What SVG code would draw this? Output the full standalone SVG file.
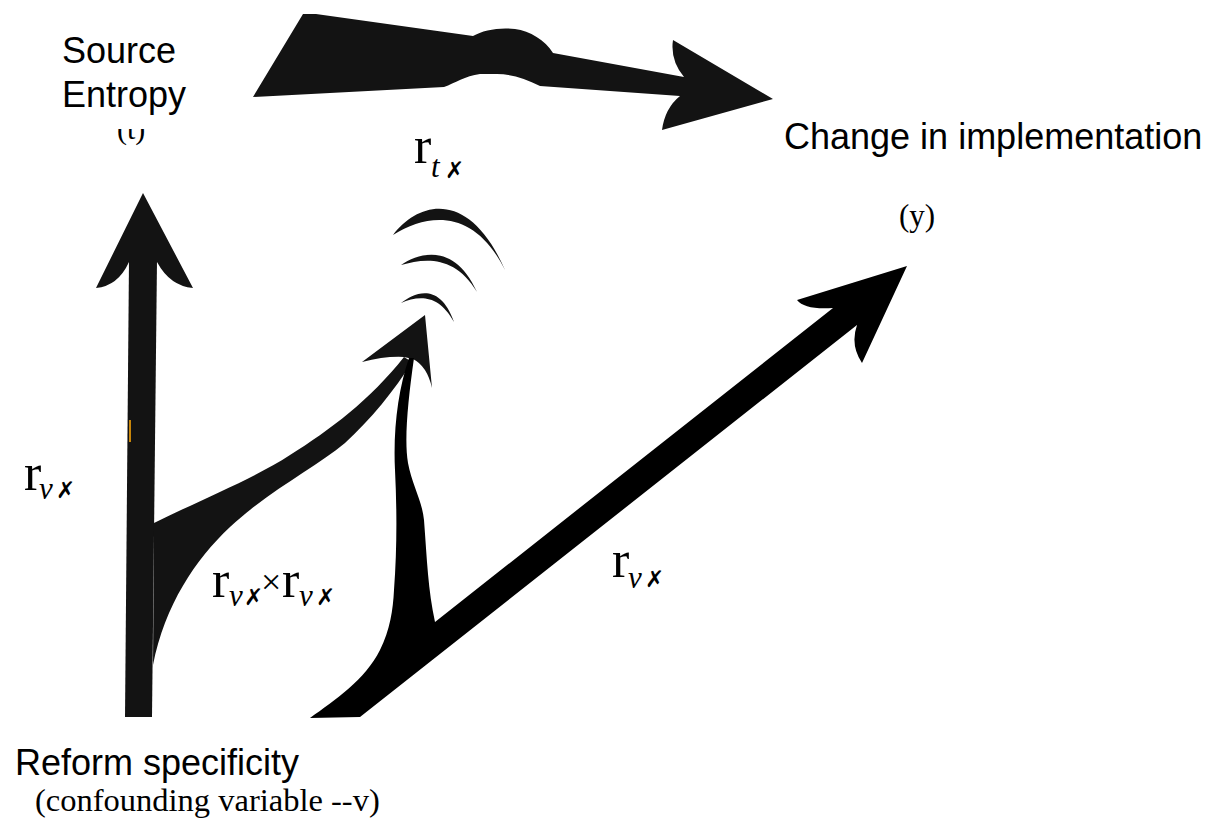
<svg xmlns="http://www.w3.org/2000/svg" width="1214" height="820" viewBox="0 0 1214 820">
<style>
.sans{font-family:"Liberation Sans",Arial,sans-serif;font-size:36px;fill:#000}
.serif{font-family:"Liberation Serif","Times New Roman",serif;fill:#000}
.r{font-size:52px}
.sub{font-size:31px;font-style:italic}
.g{font-family:"DejaVu Sans",sans-serif;font-size:23px}
.ink{fill:#131313}
.ink2{fill:#000}
</style>
<defs>
<clipPath id="clipT"><rect x="100" y="129" width="60" height="20"/></clipPath>
</defs>
<rect width="1214" height="820" fill="#fff"/>

<g id="connectors">
  <path id="top-arrow" class="ink" d="M253,97 L303,14 L316,14 L473,36 C483,30 500,27 515,29 C530,31 545,40 553,53 L684,77 Q670,60 673,40 L773,99 L662,130 Q665,108 680,96 L540,86 C525,78 510,74 497,74 L480,74 C465,76 455,83 444,87 Z"/>
  <path id="vertical-shaft" class="ink" d="M129,260 L157,260 L152,717 L125,717 Z"/>
  <path id="vertical-head" class="ink" d="M143,193 L193,288 Q170,286 157,262 L129,262 Q118,286 96,288 Z"/>
  <path id="branch-left" class="ink" d="M154,523 C200,500 255,478 290,455 C330,430 370,400 404,357 L412,362 C395,390 370,420 345,443 C315,468 270,490 230,527 C195,560 165,605 153,665 Z"/>
  <path id="center-head" class="ink" d="M425,315 L432,388 Q427,366 413,359 L404,357 Q385,356 362,362 Z"/>
  <path id="diagonal-arrow" class="ink2" d="M310,718 C335,700 365,680 380,650 C390,630 393,610 394,590 C397,550 397,510 395,470 C393,430 398,390 409,358 L414,358 C408,400 404,440 408,463 C412,485 422,500 424,520 C427,560 428,590 435,622 L833,308 Q805,310 797,300 L907,266 L862,363 Q850,345 857,325 L360,717 Z"/>
  <path id="wave1" class="ink" d="M393,235 C420,200 470,190 505,270 C475,210 430,212 393,235 Z"/>
  <path id="wave2" class="ink" d="M401,265 C420,252 455,243 477,292 C455,255 425,258 401,265 Z"/>
  <path id="wave3" class="ink" d="M401,303 C415,292 440,282 454,322 C438,293 418,296 401,303 Z"/>
  <rect x="129" y="420" width="2" height="22" fill="#c8860a"/>
</g>

<g id="node-source-entropy">
  <text class="sans" x="62" y="63">Source</text>
  <text class="sans" x="62" y="107">Entropy</text>
  <text class="serif" x="117" y="139" font-size="30" clip-path="url(#clipT)">(t)</text>
</g>

<g id="node-change">
  <text class="sans" x="784" y="149">Change in implementation</text>
  <text class="serif" x="899" y="226" font-size="31">(y)</text>
</g>

<g id="node-reform">
  <text class="sans" x="15" y="775">Reform specificity</text>
  <text class="serif" x="35" y="811" font-size="32.5">(confounding variable --v)</text>
</g>

<g id="label-rt">
  <text class="serif r" x="414" y="163">r</text>
  <text class="serif sub" x="431" y="177">t</text>
  <text class="g" x="445" y="178">✗</text>
</g>

<g id="label-rv-left">
  <text class="serif r" x="24" y="490">r</text>
  <text class="serif sub" x="39" y="499">v</text>
  <text class="g" x="56" y="498">✗</text>
</g>

<g id="label-product">
  <text class="serif r" x="212" y="597">r</text>
  <text class="serif sub" x="229" y="606">v</text>
  <text class="g" x="244" y="605">✗</text>
  <text class="serif" x="261" y="594" font-size="36">×</text>
  <text class="serif r" x="282" y="597">r</text>
  <text class="serif sub" x="299" y="606">v</text>
  <text class="g" x="316" y="605">✗</text>
</g>

<g id="label-rv-right">
  <text class="serif r" x="612" y="577">r</text>
  <text class="serif sub" x="628" y="588">v</text>
  <text class="g" x="645" y="587">✗</text>
</g>
</svg>
